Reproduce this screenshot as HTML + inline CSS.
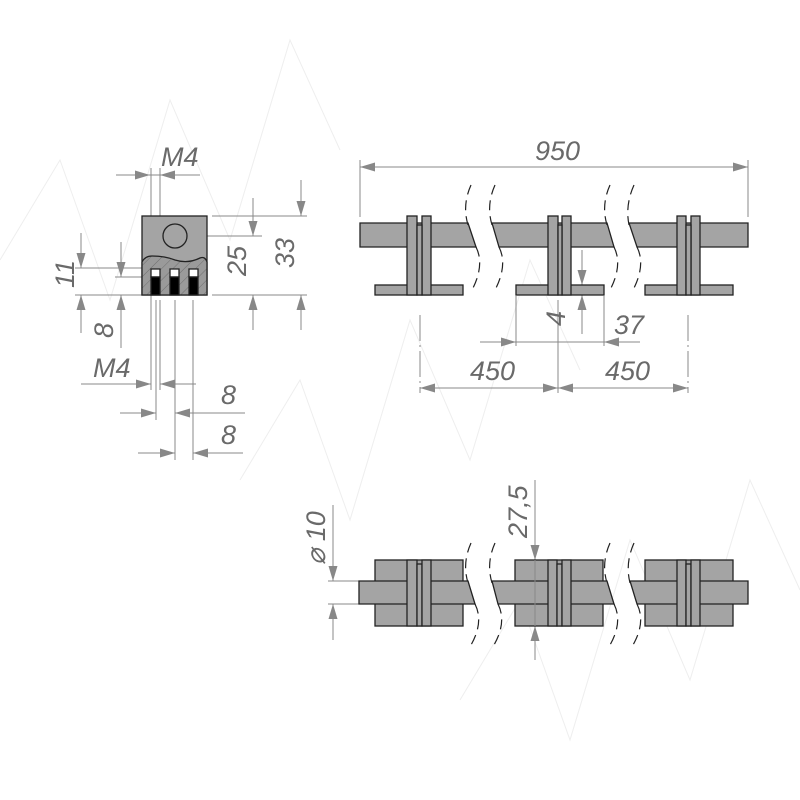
<!DOCTYPE html>
<html><head><meta charset="utf-8"><style>html,body{margin:0;background:#fff}svg{display:block}text{font-family:"Liberation Sans",sans-serif;font-style:italic;fill:#6a6a6a;font-size:27px}</style></head>
<body>
<svg width="800" height="800" viewBox="0 0 800 800" xmlns="http://www.w3.org/2000/svg">
<defs>
<marker id="a" markerUnits="userSpaceOnUse" markerWidth="15" markerHeight="10" refX="15" refY="5" orient="auto"><path d="M0,0.5 L15,5 L0,9.5z" fill="#888"/></marker>
<pattern id="h" patternUnits="userSpaceOnUse" width="8" height="8" patternTransform="rotate(45)"><rect width="8" height="8" fill="#9a9a9a"/><line x1="0" y1="0" x2="0" y2="8" stroke="#6f6f6f" stroke-width="1"/></pattern>
</defs>
<!-- watermark -->
<g stroke="#eee" fill="none" stroke-width="1">
<path d="M0,260 L60,160 L110,300 L170,100 L230,240 L290,40 L340,150"/>
<path d="M240,480 L300,380 L350,520 L410,320 L470,460 L530,260 L580,370"/>
<path d="M460,700 L520,600 L570,740 L630,540 L690,680 L750,480 L800,590"/>
</g>
<g stroke="#888" stroke-width="1" fill="none">
<!-- left view dims -->
<line x1="116" y1="175" x2="150" y2="175" marker-end="url(#a)"/>
<line x1="200" y1="175" x2="160" y2="175" marker-end="url(#a)"/>
<line x1="150" y1="175" x2="160" y2="175"/>
<line x1="151" y1="168" x2="151" y2="390"/>
<line x1="160" y1="168" x2="160" y2="260"/>
<line x1="156" y1="300" x2="156" y2="420"/>
<line x1="160" y1="300" x2="160" y2="390"/>
<line x1="175" y1="300" x2="175" y2="460"/>
<line x1="193" y1="300" x2="193" y2="460"/>
<line x1="81" y1="384" x2="151" y2="384" marker-end="url(#a)"/>
<line x1="196" y1="384" x2="160" y2="384" marker-end="url(#a)"/>
<line x1="120" y1="413" x2="156" y2="413" marker-end="url(#a)"/>
<line x1="245" y1="413" x2="175" y2="413" marker-end="url(#a)"/>
<line x1="138" y1="453" x2="175" y2="453" marker-end="url(#a)"/>
<line x1="243" y1="453" x2="193" y2="453" marker-end="url(#a)"/>
<line x1="75" y1="268" x2="142" y2="268"/>
<line x1="75" y1="295" x2="142" y2="295"/>
<line x1="115" y1="277" x2="142" y2="277"/>
<line x1="81" y1="233" x2="81" y2="268" marker-end="url(#a)"/>
<line x1="81" y1="333" x2="81" y2="295" marker-end="url(#a)"/>
<line x1="121" y1="242" x2="121" y2="277" marker-end="url(#a)"/>
<line x1="121" y1="348" x2="121" y2="295" marker-end="url(#a)"/>
<line x1="175" y1="236" x2="262" y2="236"/>
<line x1="212" y1="216" x2="307" y2="216"/>
<line x1="212" y1="295" x2="307" y2="295"/>
<line x1="253" y1="198" x2="253" y2="236" marker-end="url(#a)"/>
<line x1="253" y1="330" x2="253" y2="295" marker-end="url(#a)"/>
<line x1="301" y1="180" x2="301" y2="216" marker-end="url(#a)"/>
<line x1="301" y1="330" x2="301" y2="295" marker-end="url(#a)"/>
<!-- top view dims -->
<line x1="360" y1="160" x2="360" y2="217"/>
<line x1="748" y1="160" x2="748" y2="217"/>
<line x1="400" y1="167" x2="360" y2="167" marker-end="url(#a)"/>
<line x1="400" y1="167" x2="708" y2="167"/>
<line x1="708" y1="167" x2="748" y2="167" marker-end="url(#a)"/>
<line x1="420" y1="315" x2="420" y2="393" stroke-dasharray="26,4,2,4"/>
<line x1="558" y1="300" x2="558" y2="393"/>
<line x1="688" y1="315" x2="688" y2="393" stroke-dasharray="26,4,2,4"/>
<line x1="516" y1="296" x2="516" y2="346"/>
<line x1="604" y1="296" x2="604" y2="346"/>
<line x1="480" y1="342" x2="516" y2="342" marker-end="url(#a)"/>
<line x1="640" y1="342" x2="604" y2="342" marker-end="url(#a)"/>
<line x1="516" y1="342" x2="604" y2="342"/>
<line x1="582" y1="250" x2="582" y2="285" marker-end="url(#a)"/>
<line x1="582" y1="334" x2="582" y2="295" marker-end="url(#a)"/>
<line x1="420" y1="388" x2="558" y2="388"/>
<line x1="460" y1="388" x2="420" y2="388" marker-end="url(#a)"/>
<line x1="518" y1="388" x2="558" y2="388" marker-end="url(#a)"/>
<line x1="558" y1="388" x2="688" y2="388"/>
<line x1="598" y1="388" x2="558" y2="388" marker-end="url(#a)"/>
<line x1="648" y1="388" x2="688" y2="388" marker-end="url(#a)"/>
<!-- bottom view dims -->
<line x1="328" y1="581" x2="425" y2="581"/>
<line x1="328" y1="604" x2="425" y2="604"/>
<line x1="333" y1="505" x2="333" y2="581" marker-end="url(#a)"/>
<line x1="333" y1="640" x2="333" y2="604" marker-end="url(#a)"/>
<line x1="535" y1="480" x2="535" y2="560" marker-end="url(#a)"/>
<line x1="535" y1="660" x2="535" y2="626" marker-end="url(#a)"/>
</g>
<!-- left view body -->
<g stroke="#222" stroke-width="1.3">
<rect x="142" y="216" width="65" height="79" fill="#a4a4a4"/>
<path d="M142,262 Q145,256 152,256 Q165,256 175,260 Q188,264 200,258 Q205,256 207,262 L207,295 L142,295Z" fill="url(#h)"/>
<circle cx="175" cy="236" r="12" fill="#a4a4a4"/>
<rect x="151" y="269" width="9" height="8" fill="#fff"/><rect x="151" y="277" width="9" height="18" fill="#000"/>
<rect x="170" y="269" width="9" height="8" fill="#fff"/><rect x="170" y="277" width="9" height="18" fill="#000"/>
<rect x="189" y="269" width="9" height="8" fill="#fff"/><rect x="189" y="277" width="9" height="18" fill="#000"/>
</g>
<!-- top view -->
<g stroke="#222" stroke-width="1.3" fill="#a4a4a4">
<path d="M360,223 L468,223 L476,247 L360,247Z"/>
<path d="M492,223 L607,223 L614,247 L499,247Z"/>
<path d="M629,223 L748,223 L748,247 L637,247Z"/>
<rect x="375" y="285" width="88" height="10"/><rect x="407" y="216" width="10" height="79"/><rect x="422" y="216" width="9" height="79"/><rect x="417" y="225" width="5" height="70"/>
<rect x="516" y="285" width="88" height="10"/><rect x="548" y="216" width="10" height="79"/><rect x="562" y="216" width="9" height="79"/><rect x="558" y="225" width="4" height="70"/>
<rect x="645" y="285" width="88" height="10"/><rect x="677" y="216" width="9" height="79"/><rect x="691" y="216" width="9" height="79"/><rect x="686" y="225" width="5" height="70"/>
</g>
<g stroke="#222" stroke-width="1.2" fill="none" stroke-dasharray="10,6">
<path d="M471,185 Q462,205 468,225 M476,247 Q485,265 472,290"/>
<path d="M495,185 Q486,205 492,225 M499,247 Q508,265 495,290"/>
<path d="M610,185 Q601,205 607,225 M614,247 Q623,265 610,290"/>
<path d="M634,185 Q625,205 629,225 M637,247 Q646,265 633,290"/>
<path d="M471,543 Q462,563 468,583 M475,604 Q484,622 471,645"/>
<path d="M495,543 Q486,563 492,583 M498,604 Q507,622 494,645"/>
<path d="M610,543 Q601,563 607,583 M614,604 Q623,622 610,645"/>
<path d="M634,543 Q625,563 630,583 M637,604 Q646,622 633,645"/>
</g>
<!-- bottom view -->
<g stroke="#222" stroke-width="1.3" fill="#a4a4a4">
<rect x="375" y="560" width="88" height="66"/><rect x="515" y="560" width="88" height="66"/><rect x="645" y="560" width="88" height="66"/>
<path d="M359,581 L468,581 L475,604 L359,604Z"/>
<path d="M492,581 L607,581 L614,604 L498,604Z"/>
<path d="M630,581 L748,581 L748,604 L637,604Z"/>
<rect x="407" y="560" width="10" height="66"/><rect x="417" y="564" width="5" height="62"/><rect x="422" y="560" width="9" height="66"/>
<rect x="548" y="560" width="9" height="66"/><rect x="557" y="564" width="5" height="62"/><rect x="562" y="560" width="9" height="66"/>
<rect x="677" y="560" width="9" height="66"/><rect x="686" y="564" width="5" height="62"/><rect x="691" y="560" width="9" height="66"/>
</g>
<line x1="535" y1="560" x2="535" y2="626" stroke="#888"/>
<!-- labels -->
<text x="161" y="166">M4</text>
<text x="93" y="377">M4</text>
<text x="221" y="404">8</text>
<text x="221" y="444">8</text>
<text transform="translate(74,288) rotate(-90)">11</text>
<text transform="translate(113,338) rotate(-90)">8</text>
<text transform="translate(246,276) rotate(-90)">25</text>
<text transform="translate(294,268) rotate(-90)">33</text>
<text x="535" y="160">950</text>
<text x="614" y="334">37</text>
<text transform="translate(565,326) rotate(-90)" font-size="22">4</text>
<text x="470" y="380">450</text>
<text x="605" y="380">450</text>
<text transform="translate(325,565) rotate(-90)">⌀ 10</text>
<text transform="translate(527,538) rotate(-90)">27,5</text>
</svg>
</body></html>
